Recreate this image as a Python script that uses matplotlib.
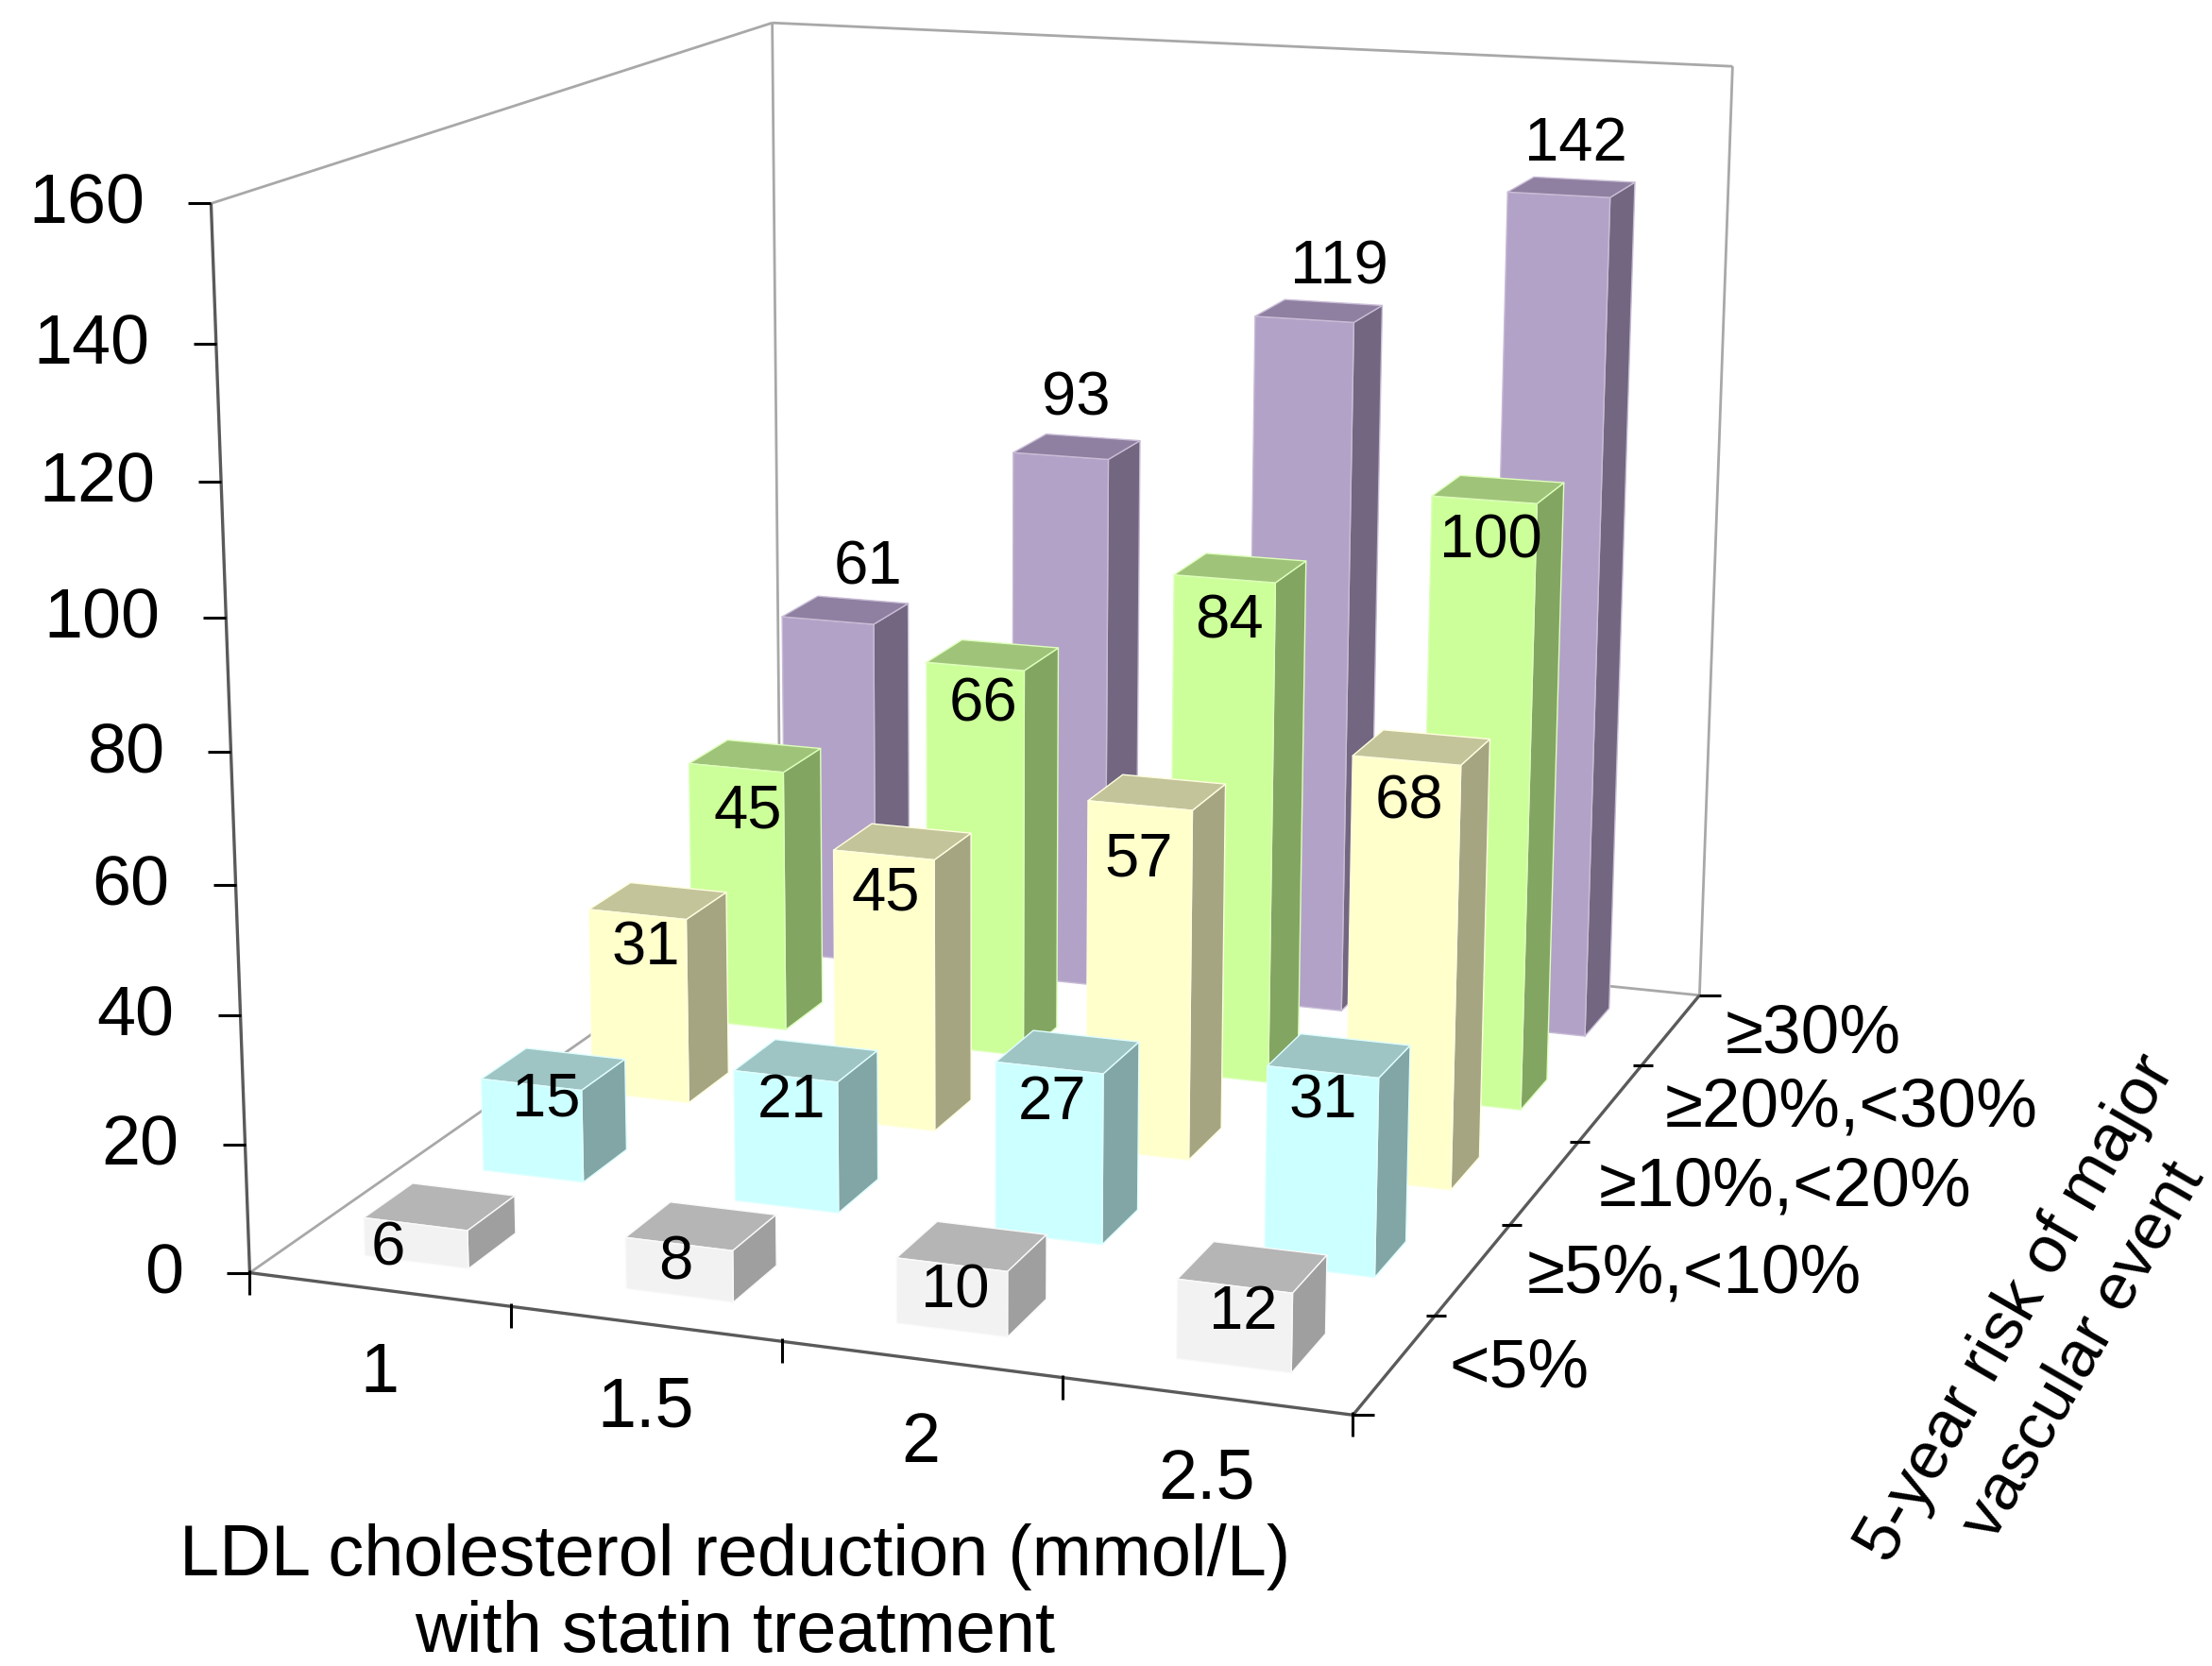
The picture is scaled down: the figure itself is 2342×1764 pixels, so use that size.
import numpy as np
import matplotlib
matplotlib.use("Agg")
import matplotlib.pyplot as plt
from matplotlib.colors import to_rgba

plt.rcParams['font.family'] = ['Liberation Sans', 'DejaVu Sans']

W, H = 2342, 1764
S = 2342 / 1568

# ---- data ----
ldl_labels = ['1', '1.5', '2', '2.5']
risk_labels = ['<5%', '≥5%,<10%', '≥10%,<20%', '≥20%,<30%', '≥30%']
z_ticks = [0, 20, 40, 60, 80, 100, 120, 140, 160]
risk_lt5 = [6, 8, 10, 12]
risk_5_10 = [15, 21, 27, 31]
risk_10_20 = [31, 45, 57, 68]
risk_20_30 = [45, 66, 84, 100]
risk_ge30 = [61, 93, 119, 142]
series = [risk_lt5, risk_5_10, risk_10_20, risk_20_30, risk_ge30]

# face colours: front, side, top, edge
palette = [
    ('#F2F2F2', '#9F9F9F', '#B5B5B5', '#FAFAFA'),
    ('#CCFFFF', '#82A5A5', '#9FC4C4', '#E0FFFF'),
    ('#FFFFCC', '#A5A582', '#C4C49B', '#FFFFE0'),
    ('#CCFF99', '#82A562', '#A0C37A', '#DDFFBB'),
    ('#B3A2C7', '#726680', '#8F7FA0', '#C8BCD6'),
]

# label centres, placed by hand in the original (in 1568-wide picture units)
label_pos = [
    [(275, 883), (479, 893), (677, 913), (881, 928)],
    [(387, 777), (561, 778), (746, 779), (938, 778)],
    [(458, 670), (628, 631), (807, 607), (999, 566)],
    [(530, 573), (697, 497), (871, 438), (1057, 381)],
    [(615, 400), (763, 280), (949, 187), (1117, 100)],
]

# ---- camera calibration: axis positions -> picture pixels ----
calib = [
    ((0, 0, 0), (266, 1349)), ((0, 0, 20), (258, 1210)), ((0, 0, 40), (253, 1071)),
    ((0, 0, 60), (248, 932)), ((0, 0, 80), (243, 792)), ((0, 0, 100), (238, 651)),
    ((0, 0, 120), (233, 508)), ((0, 0, 140), (228, 361)), ((0, 0, 160), (224, 216)),
    ((1, 0, 0), (542, 1382)), ((2, 0, 0), (826, 1422)), ((3, 0, 0), (1122, 1461)),
    ((4, 0, 0), (1430, 1499)), ((4, 1, 0), (1525, 1391)), ((4, 2, 0), (1608, 1295)),
    ((4, 3, 0), (1679, 1207)), ((4, 4, 0), (1746, 1127)), ((4, 5, 0), (1798, 1053)),
    ((0, 5, 0), (825, 961)), ((0, 5, 160), (817, 24)), ((4, 5, 160), (1835, 71)),
]
corners = [(0, 0, 0), (4, 0, 0), (4, 5, 0), (0, 0, 160), (0, 5, 160), (4, 5, 160)]


def fit_camera(pairs):
    A = []
    for (x, y, z), (u, v) in pairs:
        k = 3.0 if (x, y, z) in corners else 1.0
        X = [x / 4, y / 5, z / 160, 1]
        u, v = u / W, v / W
        A.append([k * c for c in X + [0, 0, 0, 0] + [-u * c for c in X]])
        A.append([k * c for c in [0, 0, 0, 0] + X + [-v * c for c in X]])
    p = np.linalg.svd(np.array(A))[2][-1].reshape(3, 4)
    P = np.diag([W, W, 1.0]) @ p @ np.diag([1 / 4, 1 / 5, 1 / 160, 1])
    if (P @ [2, 2, 50, 1])[2] < 0:
        P = -P
    return P


P = fit_camera(calib)


def project(x, y, z):
    u, v, w = P @ [x, y, z, 1]
    return u / w, v / w


fig = plt.figure(figsize=(W / 100, H / 100), dpi=100, facecolor='white')


def pixel_axes(z):
    a = fig.add_axes([0, 0, 1, 1], zorder=z)
    a.set_xlim(0, W)
    a.set_ylim(H, 0)
    a.axis('off')
    return a


# ---- walls, behind the bars ----
bg = pixel_axes(0)
wall_c, axis_c = '#A8A8A8', '#5A5A5A'


def edge(a, b, **kw):
    pa, pb = project(*a), project(*b)
    bg.plot([pa[0], pb[0]], [pa[1], pb[1]], solid_capstyle='butt', **kw)


for a, b in [((0, 0, 160), (0, 5, 160)), ((0, 5, 160), (4, 5, 160)),
             ((0, 5, 0), (0, 5, 160)), ((4, 5, 0), (4, 5, 160)),
             ((0, 0, 0), (0, 5, 0)), ((0, 5, 0), (4, 5, 0))]:
    edge(a, b, color=wall_c, lw=2.0)
for a, b in [((0, 0, 0), (0, 0, 160)), ((0, 0, 0), (4, 0, 0)), ((4, 0, 0), (4, 5, 0))]:
    edge(a, b, color=axis_c, lw=2.4)

# ---- bars, in a 3D axes that uses the calibrated camera ----
side = W / H
ax = fig.add_axes([0, (1 - side) / 2, 1, side], projection='3d', computed_zorder=False, zorder=1)
ax.set_axis_off()
ax.patch.set_visible(False)


def camera_proj():
    # picture pixels -> display -> the 2D data space of the 3D axes
    flip = np.array([[1, 0, 0], [0, -1, H], [0, 0, 1.0]])
    T = ax.transData.inverted().get_matrix() @ flip @ P
    c = T[2] @ [2, 2, 50, 1]
    return np.vstack([T[0], T[1], T[2] - c * np.array([0, 0, 0, 1.0]), T[2]])


ax.get_proj = camera_proj

bar = 0.4
gap = (1 - bar) / 2
order = 10
for j in range(len(series) - 1, -1, -1):
    front, sidec, top, rim = palette[j]
    clear = (0, 0, 0, 0)
    # bottom, top, -y, +y, -x, +x
    faces = [clear, to_rgba(top), to_rgba(front), clear, clear, to_rgba(sidec)]
    edges = [clear, to_rgba(rim), to_rgba(rim), clear, clear, to_rgba(rim)]
    for i, v in enumerate(series[j]):
        ax.bar3d([i + gap], [j + gap], [0], bar, bar, v, color=faces, shade=False,
                 edgecolor=edges, linewidth=1.0, zorder=order)
        order += 1

# ---- ticks and text, on top ----
ov = pixel_axes(5)
tick_kw = dict(color='black', lw=2.2, solid_capstyle='butt')

for z in z_ticks:
    u, v = project(0, 0, z)
    ov.plot([u - 24, u], [v, v], **tick_kw)
    ov.text(u - 70, v + 2, str(z), ha='right', va='center', fontsize=53)
for i in range(len(ldl_labels) + 1):
    u, v = project(i, 0, 0)
    ov.plot([u, u], [v - 3, v + 23], **tick_kw)
for i, t in enumerate(ldl_labels):
    u, v = project(i + 0.5, 0, 0)
    ov.text(u, v + 89, t, ha='center', va='center', fontsize=53)
for j in range(len(risk_labels) + 1):
    u, v = project(4, j, 0)
    if j in (0, len(risk_labels)):
        ov.plot([u, u + 23], [v, v], **tick_kw)
    else:
        ov.plot([u - 9, u + 12], [v, v], **tick_kw)
for j, t in enumerate(risk_labels):
    u, v = project(4, j + 0.5, 0)
    ov.text(u + 57, v + 6, t, ha='left', va='center', fontsize=52.5)

for vals, pos in zip(series, label_pos):
    for v, (px, py) in zip(vals, pos):
        ov.text(px * S, py * S + 4, str(v), ha='center', va='center', fontsize=47)

ov.text(778, 1649, 'LDL cholesterol reduction (mmol/L)', ha='center', va='center', fontsize=54.5)
ov.text(778, 1730, 'with statin treatment', ha='center', va='center', fontsize=54.5)
ov.text(2136, 1386, '5-year risk of major', ha='center', va='center', rotation=60,
        rotation_mode='anchor', fontsize=51)
ov.text(2206, 1431, 'vascular event', ha='center', va='center', rotation=60,
        rotation_mode='anchor', fontsize=50)

fig.savefig('out.png', dpi=100, facecolor='white')
